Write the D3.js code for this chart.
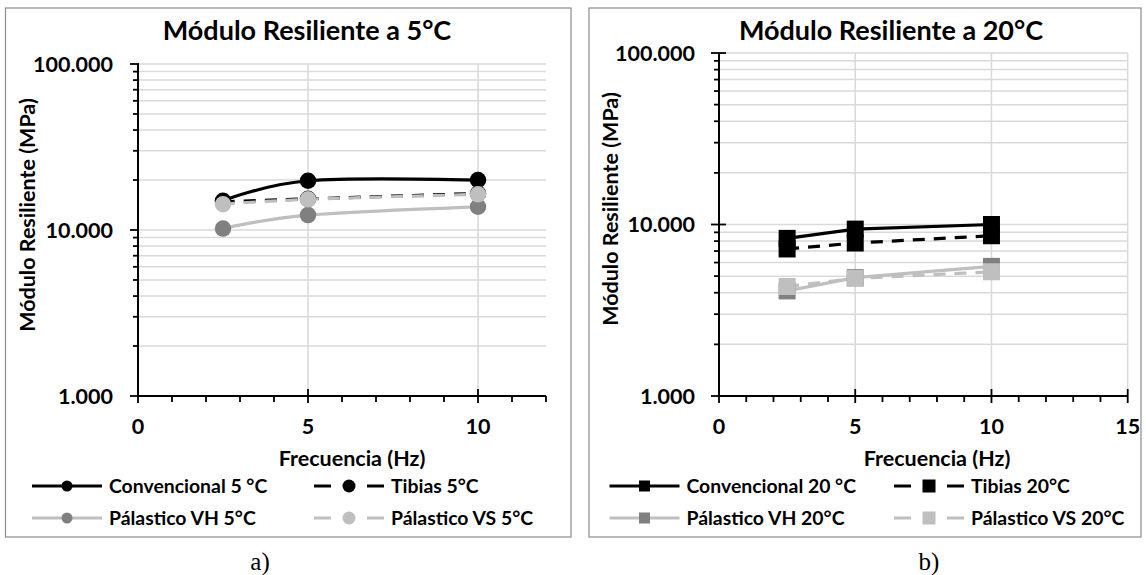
<!DOCTYPE html>
<html>
<head>
<meta charset="utf-8">
<script src="https://cdn.jsdelivr.net/npm/d3@7/dist/d3.min.js"></script>
<style>
  html, body { margin: 0; padding: 0; background: #fff; }
  svg text { font-family: Lato, "Open Sans", sans-serif; font-weight: bold; fill: #000; }
  svg text.caption { font-family: "Liberation Serif", "DejaVu Serif", serif; font-weight: normal; }
</style>
</head>
<body>
<svg id="chart" width="1146" height="575"></svg>
<script>
// Frequencies tested (Hz)
const freqs = [2.5, 5, 10];

// Resilient modulus (MPa) at 5 °C
const conv5   = [15000, 19800, 20000];
const tibias5 = [14800, 15400, 16600];
const vh5     = [10200, 12300, 13800];
const vs5     = [14300, 15300, 16400];

// Resilient modulus (MPa) at 20 °C
const conv20   = [8300, 9400, 10000];
const tibias20 = [7200, 7800, 8600];
const vh20     = [4100, 4900, 5700];
const vs20     = [4350, 4850, 5300];

// Axis ticks and labels
const yMajorTicks = [1000, 10000, 100000];
const xTicksA = [0, 5, 10];
const xTicksB = [0, 5, 10, 15];
const titleA = "Módulo Resiliente a 5°C";
const titleB = "Módulo Resiliente a 20°C";
const yTitle = "Módulo Resiliente (MPa)";
const xTitle = "Frecuencia (Hz)";
const namesA = ["Convencional 5 °C", "Tibias 5°C", "Pálastico VH 5°C", "Pálastico VS 5°C"];
const namesB = ["Convencional 20 °C", "Tibias 20°C", "Pálastico VH 20°C", "Pálastico VS 20°C"];

const esLocale = d3.formatLocale({ decimal: ",", thousands: ".", grouping: [3], currency: ["", ""] });
const fmtY = esLocale.format(",");

const svg = d3.select("#chart");

// log ticks 1..9 in each decade, plus the upper bound
function minorTicks(lo, hi) {
  const out = [];
  for (let d = lo; d < hi; d *= 10) {
    for (let k = 1; k <= 9; k++) out.push(d * k);
  }
  out.push(hi);
  return out;
}

// series styles: line colour, dash pattern, marker fill
const styles = [
  { line: "#000000", dash: null,  fill: "#000000" },
  { line: "#000000", dash: "12,9", fill: "#000000" },
  { line: "#bfbfbf", dash: null,  fill: "#808080" },
  { line: "#bfbfbf", dash: "12,9", fill: "#bfbfbf" }
];

const FS_TICK = 21.5, FS_AXIS = 21.5, FS_TITLE = 27, FS_LEGEND = 19.4;

function drawPanel(cfg) {
  const g = svg.append("g");

  // outer frame
  g.append("rect")
    .attr("x", cfg.frame[0]).attr("y", cfg.frame[1])
    .attr("width", cfg.frame[2] - cfg.frame[0]).attr("height", cfg.frame[3] - cfg.frame[1])
    .attr("fill", "none").attr("stroke", "#8c8c8c").attr("stroke-width", 1.2);

  const x = d3.scaleLinear().domain(cfg.xDomain).range([cfg.left, cfg.right]);
  const y = d3.scaleLog().domain([1000, 100000]).range([cfg.bottom, cfg.top]);

  // horizontal gridlines
  g.append("g").selectAll("line").data(minorTicks(1000, 100000).filter(v => v > 1000))
    .join("line")
    .attr("x1", cfg.left).attr("x2", cfg.right)
    .attr("y1", d => y(d)).attr("y2", d => y(d))
    .attr("stroke", "#d9d9d9").attr("stroke-width", 1.5);

  // vertical gridlines at labelled frequencies
  g.append("g").selectAll("line").data(cfg.xTicks.filter(v => v > 0))
    .join("line")
    .attr("x1", d => x(d)).attr("x2", d => x(d))
    .attr("y1", cfg.top).attr("y2", cfg.bottom)
    .attr("stroke", "#d9d9d9").attr("stroke-width", 1.5);

  // y axis
  const yAxis = g.append("g").attr("transform", `translate(${cfg.left},0)`);
  yAxis.append("line").attr("x1", 0).attr("x2", 0)
    .attr("y1", cfg.top).attr("y2", cfg.bottom).attr("stroke", "#000").attr("stroke-width", 2);
  yAxis.selectAll("line.minor").data(minorTicks(1000, 100000))
    .join("line").attr("class", "minor")
    .attr("x1", d => yMajorTicks.includes(d) ? -8 : -5)
    .attr("x2", d => yMajorTicks.includes(d) ? cfg.majorOver : 0)
    .attr("y1", d => y(d)).attr("y2", d => y(d))
    .attr("stroke", "#000").attr("stroke-width", 1.8);
  yAxis.selectAll("text").data(yMajorTicks)
    .join("text")
    .attr("x", cfg.yLabelRight - cfg.left)
    .attr("y", d => y(d))
    .attr("dy", "0.36em")
    .attr("text-anchor", "end")
    .attr("font-size", FS_TICK)
    .text(d => fmtY(d));

  // x axis
  const xAxis = g.append("g").attr("transform", `translate(0,${cfg.bottom})`);
  xAxis.append("line").attr("x1", cfg.left).attr("x2", cfg.right)
    .attr("stroke", "#000").attr("stroke-width", 2);
  xAxis.selectAll("line.tick").data(d3.range(cfg.xDomain[0], cfg.xDomain[1] + 1))
    .join("line").attr("class", "tick")
    .attr("x1", d => x(d)).attr("x2", d => x(d))
    .attr("y1", d => (d % 5 === 0 && d > 0) ? -7 : 0)
    .attr("y2", d => (d % 5 === 0) ? 7 : 6)
    .attr("stroke", "#000").attr("stroke-width", 1.8);
  xAxis.selectAll("text").data(cfg.xTicks)
    .join("text")
    .attr("x", d => x(d)).attr("y", 38)
    .attr("text-anchor", "middle")
    .attr("font-size", FS_TICK)
    .text(d => d);

  // titles
  g.append("text").attr("x", cfg.titleX).attr("y", 40)
    .attr("text-anchor", "middle").attr("font-size", FS_TITLE).text(cfg.title);
  g.append("text").attr("x", cfg.xTitleX).attr("y", 466)
    .attr("text-anchor", "middle").attr("font-size", FS_AXIS).text(xTitle);
  g.append("text")
    .attr("transform", `translate(${cfg.yTitleX},${cfg.yTitleY}) rotate(-90)`)
    .attr("text-anchor", "middle").attr("dy", "0.35em")
    .attr("font-size", FS_AXIS).text(yTitle);

  // series lines
  const line = d3.line().x(d => x(d[0])).y(d => y(d[1])).curve(cfg.curve);
  cfg.series.forEach((vals, i) => {
    const pts = freqs.map((f, j) => [f, vals[j]]);
    g.append("path").datum(pts)
      .attr("d", line)
      .attr("fill", "none")
      .attr("stroke", styles[i].line)
      .attr("stroke-width", 3.2)
      .attr("stroke-dasharray", styles[i].dash);
  });
  // series markers
  cfg.series.forEach((vals, i) => {
    const pts = freqs.map((f, j) => [f, vals[j]]);
    drawMarkers(g, pts.map(p => [x(p[0]), y(p[1])]), cfg.marker, styles[i].fill, cfg.markerSize);
  });

  // legend, two columns by two rows
  const leg = g.append("g");
  cfg.names.forEach((name, i) => {
    const col = i % 2, row = Math.floor(i / 2);
    const lx = cfg.legendX[col];
    const ly = 486 + row * 32;
    const item = leg.append("g");
    item.append("line").attr("x1", lx).attr("x2", lx + 70).attr("y1", ly).attr("y2", ly)
      .attr("stroke", styles[i].line).attr("stroke-width", 3.2)
      .attr("stroke-dasharray", styles[i].dash ? "17,36" : null);
    drawMarkers(item, [[lx + 35, ly]], cfg.marker, styles[i].fill,
      styles[i].dash ? cfg.legendMarker + 2 : cfg.legendMarker);
    item.append("text").attr("x", lx + 77).attr("y", ly).attr("dy", "0.36em")
      .attr("font-size", FS_LEGEND).text(name);
  });
}

function drawMarkers(g, pts, type, fill, size) {
  if (type === "circle") {
    g.selectAll(null).data(pts).join("circle")
      .attr("cx", d => d[0]).attr("cy", d => d[1]).attr("r", size / 2)
      .attr("fill", fill);
  } else {
    g.selectAll(null).data(pts).join("rect")
      .attr("x", d => d[0] - size / 2).attr("y", d => d[1] - size / 2)
      .attr("width", size).attr("height", size)
      .attr("fill", fill);
  }
}

drawPanel({
  frame: [5.5, 8, 571, 537],
  left: 138, right: 546, top: 64, bottom: 396,
  xDomain: [0, 12], xTicks: xTicksA,
  yLabelRight: 113, majorOver: 1,
  title: titleA, titleX: 307, xTitleX: 352, yTitleX: 27, yTitleY: 215,
  series: [conv5, tibias5, vh5, vs5],
  names: namesA,
  marker: "circle", markerSize: 16.5, legendMarker: 11,
  curve: d3.curveCatmullRom.alpha(0),
  legendX: [32, 314]
});

drawPanel({
  frame: [589, 8, 1141, 537],
  left: 719, right: 1127.7, top: 53, bottom: 396,
  xDomain: [0, 15], xTicks: xTicksB,
  yLabelRight: 695, majorOver: 7,
  title: titleB, titleX: 891, xTitleX: 937, yTitleX: 610, yTitleY: 209,
  series: [conv20, tibias20, vh20, vs20],
  names: namesB,
  marker: "square", markerSize: 17, legendMarker: 11,
  curve: d3.curveLinear,
  legendX: [609.5, 894]
});

// panel captions
svg.append("text").attr("class", "caption").attr("x", 260).attr("y", 570)
  .attr("text-anchor", "middle").attr("font-size", 25).text("a)");
svg.append("text").attr("class", "caption").attr("x", 929).attr("y", 570)
  .attr("text-anchor", "middle").attr("font-size", 25).text("b)");
</script>
</body>
</html>
